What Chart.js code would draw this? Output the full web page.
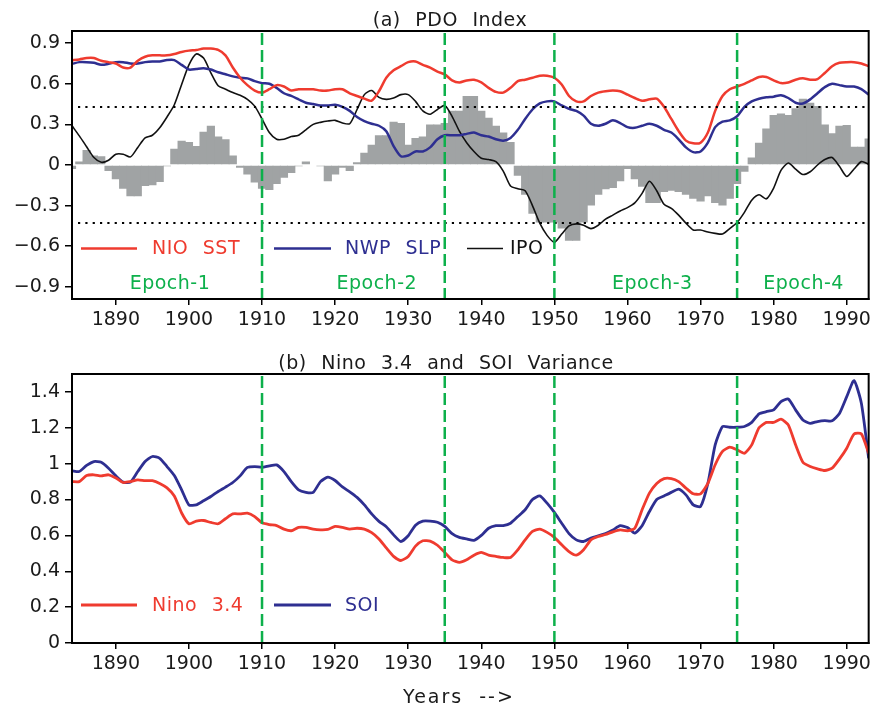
<!DOCTYPE html>
<html>
<head>
<meta charset="utf-8">
<script src="https://cdn.jsdelivr.net/npm/chart.js@4/dist/chart.umd.min.js"></script>
<style>
	body { margin:0; background:#fff; }
	canvas { display:block; }
</style>
</head>
<body>
<script>
// data ==========================================================================================

const years = Array.from({length: 110}, (_, i) => 1884 + i)   // 1884 .. 1993

const pdoBars = [
	-0.03, 0.025, 0.11, 0.07, 0.065, -0.045, -0.105, -0.175, -0.23, -0.23,
	-0.155, -0.15, -0.125, -0.01, 0.12, 0.18, 0.17, 0.14, 0.245, 0.29,
	0.21, 0.19, 0.07, -0.02, -0.07, -0.13, -0.175, -0.185, -0.14, -0.095,
	-0.06, -0.01, 0.025, 0.005, -0.01, -0.12, -0.07, -0.02, -0.045, 0.02,
	0.09, 0.15, 0.22, 0.22, 0.32, 0.31, 0.15, 0.2, 0.21, 0.3,
	0.3, 0.31, 0.4, 0.4, 0.51, 0.51, 0.4, 0.35, 0.29, 0.24,
	0.17, -0.08, -0.22, -0.36, -0.425, -0.425, -0.425, -0.47, -0.56, -0.56,
	-0.425, -0.3, -0.22, -0.18, -0.17, -0.12, -0.03, -0.105, -0.16, -0.28,
	-0.28, -0.2, -0.19, -0.2, -0.22, -0.25, -0.27, -0.23, -0.28, -0.3,
	-0.25, -0.14, -0.05, 0.055, 0.165, 0.27, 0.37, 0.38, 0.37, 0.42,
	0.49, 0.46, 0.435, 0.3, 0.235, 0.29, 0.295, 0.135, 0.135, 0.195,
]

const nioSst = [
	0.774, 0.78, 0.79, 0.79, 0.77, 0.76, 0.75, 0.72, 0.72, 0.77,
	0.80, 0.81, 0.81, 0.81, 0.82, 0.835, 0.845, 0.85, 0.86, 0.86,
	0.85, 0.81, 0.72, 0.645, 0.59, 0.55, 0.535, 0.56, 0.59, 0.58,
	0.55, 0.56, 0.56, 0.56, 0.55, 0.55, 0.56, 0.56, 0.53, 0.51,
	0.49, 0.475, 0.545, 0.645, 0.70, 0.73, 0.76, 0.765, 0.74, 0.72,
	0.69, 0.67, 0.625, 0.61, 0.625, 0.63, 0.61, 0.57, 0.54, 0.535,
	0.57, 0.62, 0.63, 0.645, 0.66, 0.66, 0.645, 0.595, 0.51, 0.47,
	0.47, 0.51, 0.535, 0.545, 0.55, 0.545, 0.52, 0.495, 0.475, 0.485,
	0.49, 0.43, 0.34, 0.25, 0.18, 0.16, 0.165, 0.24, 0.40, 0.51,
	0.56, 0.58, 0.60, 0.625, 0.65, 0.65, 0.625, 0.605, 0.61, 0.63,
	0.64, 0.63, 0.635, 0.68, 0.73, 0.755, 0.76, 0.76, 0.75, 0.73,
]

const nwpSlp = [
	0.747, 0.76, 0.76, 0.755, 0.74, 0.747, 0.76, 0.76, 0.75, 0.75,
	0.76, 0.765, 0.765, 0.775, 0.775, 0.74, 0.705, 0.71, 0.715, 0.705,
	0.685, 0.67, 0.655, 0.645, 0.64, 0.62, 0.605, 0.60, 0.57, 0.53,
	0.51, 0.485, 0.46, 0.45, 0.44, 0.44, 0.445, 0.43, 0.40, 0.355,
	0.325, 0.305, 0.29, 0.25, 0.14, 0.065, 0.07, 0.10, 0.10, 0.13,
	0.19, 0.22, 0.22, 0.22, 0.23, 0.24, 0.22, 0.21, 0.19, 0.18,
	0.2, 0.26, 0.34, 0.41, 0.455, 0.47, 0.47, 0.44, 0.415, 0.40,
	0.365, 0.305, 0.29, 0.305, 0.33, 0.31, 0.28, 0.275, 0.29, 0.305,
	0.29, 0.26, 0.24, 0.19, 0.13, 0.095, 0.10, 0.165, 0.28, 0.32,
	0.33, 0.36, 0.43, 0.47, 0.49, 0.50, 0.505, 0.515, 0.495, 0.46,
	0.455, 0.485, 0.53, 0.575, 0.60, 0.59, 0.58, 0.58, 0.56, 0.52,
]

const ipo = [
	0.29, 0.215, 0.135, 0.055, 0.02, 0.035, 0.08, 0.08, 0.06, 0.13,
	0.2, 0.22, 0.275, 0.355, 0.445, 0.595, 0.74, 0.82, 0.79, 0.68,
	0.585, 0.56, 0.535, 0.515, 0.485, 0.435, 0.34, 0.24, 0.19, 0.19,
	0.21, 0.22, 0.26, 0.30, 0.315, 0.325, 0.33, 0.31, 0.305, 0.41,
	0.52, 0.55, 0.50, 0.485, 0.495, 0.52, 0.52, 0.47, 0.40, 0.375,
	0.41, 0.44, 0.36, 0.25, 0.165, 0.10, 0.05, 0.04, 0.025, -0.045,
	-0.155, -0.175, -0.19, -0.3, -0.43, -0.52, -0.57, -0.51, -0.45, -0.435,
	-0.445, -0.47, -0.445, -0.40, -0.37, -0.34, -0.315, -0.28, -0.21, -0.12,
	-0.19, -0.29, -0.32, -0.37, -0.43, -0.48, -0.48, -0.495, -0.505, -0.51,
	-0.47, -0.425, -0.35, -0.26, -0.22, -0.25, -0.17, -0.04, 0.015, -0.03,
	-0.07, -0.05, 0.0, 0.04, 0.055, -0.01, -0.085, -0.03, 0.025, 0.005,
]

const nino34Var = [
	0.90, 0.90, 0.934, 0.938, 0.932, 0.938, 0.92, 0.895, 0.90, 0.91,
	0.905, 0.905, 0.89, 0.865, 0.82, 0.725, 0.665, 0.68, 0.683, 0.672,
	0.665, 0.693, 0.72, 0.72, 0.724, 0.705, 0.67, 0.66, 0.655, 0.635,
	0.626, 0.645, 0.645, 0.635, 0.631, 0.633, 0.65, 0.645, 0.635, 0.64,
	0.635, 0.615, 0.58, 0.53, 0.483, 0.46, 0.483, 0.54, 0.57, 0.568,
	0.545, 0.505, 0.464, 0.45, 0.464, 0.49, 0.505, 0.49, 0.483, 0.477,
	0.477, 0.52, 0.575, 0.622, 0.635, 0.617, 0.589, 0.548, 0.51, 0.49,
	0.52, 0.575, 0.594, 0.605, 0.62, 0.631, 0.626, 0.64, 0.743, 0.836,
	0.89, 0.917, 0.917, 0.90, 0.864, 0.832, 0.832, 0.89, 0.994, 1.068,
	1.092, 1.077, 1.058, 1.105, 1.20, 1.23, 1.23, 1.248, 1.216, 1.105,
	1.008, 0.984, 0.971, 0.962, 0.975, 1.025, 1.086, 1.166, 1.166, 1.058,
]

const soiVar = [
	0.96, 0.956, 0.99, 1.012, 1.008, 0.975, 0.932, 0.897, 0.897, 0.956,
	1.012, 1.04, 1.03, 0.984, 0.934, 0.854, 0.77, 0.77, 0.793, 0.817,
	0.845, 0.869, 0.895, 0.932, 0.979, 0.984, 0.98, 0.988, 0.993, 0.956,
	0.90, 0.854, 0.84, 0.84, 0.90, 0.925, 0.906, 0.87, 0.843, 0.812,
	0.77, 0.72, 0.678, 0.648, 0.603, 0.566, 0.598, 0.657, 0.68, 0.68,
	0.673, 0.65, 0.61, 0.589, 0.58, 0.572, 0.60, 0.64, 0.654, 0.655,
	0.668, 0.705, 0.743, 0.80, 0.82, 0.78, 0.728, 0.668, 0.61, 0.575,
	0.566, 0.585, 0.598, 0.61, 0.63, 0.654, 0.644, 0.613, 0.654, 0.733,
	0.80, 0.82, 0.84, 0.858, 0.826, 0.77, 0.761, 0.89, 1.105, 1.207,
	1.203, 1.203, 1.207, 1.23, 1.278, 1.29, 1.30, 1.346, 1.361, 1.30,
	1.244, 1.225, 1.235, 1.24, 1.239, 1.28, 1.374, 1.463, 1.337, 1.03,
]

const yearTicks = [1890, 1900, 1910, 1920, 1930, 1940, 1950, 1960, 1970, 1980, 1990]
const pdoTicks = [-0.9, -0.6, -0.3, 0, 0.3, 0.6, 0.9]
const varTicks = [0, 0.2, 0.4, 0.6, 0.8, 1, 1.2, 1.4]
const pdoLimits = [0.43, -0.43]
const epochBounds = [1910, 1935, 1950, 1975]
const epochNames = ['Epoch-1', 'Epoch-2', 'Epoch-3', 'Epoch-4']
const epochLabelAt = [1897.4, 1925.7, 1963.4, 1984.1]


// helpers =======================================================================================

const el = o => {
	const e = document.createElement(o.a)
	if (o.c) e.textContent = o.c
	if (o.d) for (const k in o.d) e.setAttribute(k, o.d[k])
	;(o.b || document.body).appendChild(e)
	return e
}

const RED = '#ef3b2f', BLUE = '#2e2f91', GREEN = '#0db04b', GRAY = '#a0a3a4'
const FONT = '"DejaVu Sans", sans-serif'

Chart.defaults.font.family = FONT
Chart.defaults.font.size = 19
Chart.defaults.color = '#1a1a1a'

const pts = v => years.map((x, i) => ({x, y: v[i]}))

const tickText = v => {
	const a = Math.abs(v)
	const s = a === 0 ? '0' : Number.isInteger(a) ? String(a) : a.toFixed(1)
	return (v < 0 ? '\u2212' : '') + s
}

const axes = (yMin, yMax, yTicks, xHeight) => ({
	x: {
		type: 'linear', min: 1884, max: 1993, offset: false,
		afterBuildTicks: s => { s.ticks = yearTicks.map(value => ({value})) },
		afterFit: s => { s.height = xHeight },
		grid: { drawOnChartArea: false, offset: false, tickLength: 6, color: '#000', lineWidth: 1.5 },
		border: { color: '#000', width: 2 },
		ticks: { padding: 4, maxRotation: 0, autoSkip: false, callback: v => String(v) },
	},
	y: {
		type: 'linear', min: yMin, max: yMax,
		afterBuildTicks: s => { s.ticks = yTicks.map(value => ({value})) },
		afterFit: s => { s.width = 72 },
		grid: { drawOnChartArea: false, tickLength: 7, color: '#000', lineWidth: 1.5 },
		border: { color: '#000', width: 2 },
		ticks: { padding: 5, callback: tickText },
	},
})

// frame, epoch lines, dotted limits, legend, labels
const deco = {
	id: 'deco',
	afterDatasetsDraw(c, _, o) {
		const {ctx, chartArea: a, scales: {x, y}} = c
		ctx.save()

		ctx.strokeStyle = '#000'
		ctx.lineWidth = 2.2
		ctx.setLineDash([2.2, 5.13])
		;(o.limits || []).forEach(v => {
			const py = Math.round(y.getPixelForValue(v))
			ctx.beginPath(); ctx.moveTo(a.left + 6, py); ctx.lineTo(a.right - 2, py); ctx.stroke()
		})

		ctx.strokeStyle = GREEN
		ctx.lineWidth = 2.5
		ctx.setLineDash([12, 5])
		epochBounds.forEach(v => {
			const px = x.getPixelForValue(v)
			ctx.beginPath(); ctx.moveTo(px, a.top + 2); ctx.lineTo(px, a.bottom); ctx.stroke()
		})
		ctx.setLineDash([])

		ctx.strokeStyle = '#000'
		ctx.lineWidth = 2
		ctx.strokeRect(a.left, a.top, a.right - a.left, a.bottom - a.top)

		ctx.font = '19px ' + FONT
		ctx.letterSpacing = '0.5px'
		ctx.wordSpacing = '8px'
		ctx.textBaseline = 'middle'
		ctx.textAlign = 'left'
		;(o.legend || []).forEach(l => {
			const ds = c.data.datasets[l.ds]
			ctx.strokeStyle = ds.borderColor
			ctx.lineWidth = ds.borderWidth
			ctx.beginPath(); ctx.moveTo(l.x, o.legendY); ctx.lineTo(l.x + l.len, o.legendY); ctx.stroke()
			ctx.fillStyle = ds.borderColor
			ctx.fillText(ds.label, l.tx, o.legendY + 1)
		})

		if (o.epochY) {
			ctx.fillStyle = GREEN
			ctx.textAlign = 'center'
			epochNames.forEach((t, i) => ctx.fillText(t, x.getPixelForValue(epochLabelAt[i]), o.epochY))
		}

		ctx.fillStyle = '#1a1a1a'
		ctx.textAlign = 'center'
		;(o.texts || []).forEach(t => {
			ctx.letterSpacing = (t.ls || 0.5) + 'px'
			ctx.fillText(t.c, t.x, t.y)
		})
		ctx.restore()
	}
}


// panel (a) =====================================================================================

const page1 = el({a:'div', d:{style:'position:absolute; left:0; top:0; width:875px; height:330px;'}})
const cv1 = el({a:'canvas', b:page1, d:{width:875, height:330}})

new Chart(cv1, {
	type: 'line',
	data: {
		datasets: [
			{ label: 'NIO SST', data: pts(nioSst), borderColor: RED, borderWidth: 2.5, pointRadius: 0, tension: 0.25, order: 1 },
			{ label: 'NWP SLP', data: pts(nwpSlp), borderColor: BLUE, borderWidth: 2.5, pointRadius: 0, tension: 0.25, order: 2 },
			{ label: 'IPO', data: pts(ipo), borderColor: '#111', borderWidth: 1.6, pointRadius: 0, tension: 0.25, order: 3 },
			// a touch wider than one year so neighbouring bars merge without hairline gaps
			{ type: 'bar', label: 'PDO', data: pts(pdoBars), backgroundColor: GRAY, borderWidth: 0,
				barPercentage: 1.12, categoryPercentage: 1, order: 9 },
		]
	},
	options: {
		responsive: false,
		animation: false,
		events: [],
		layout: { autoPadding: false, padding: { left: 0, right: 3, top: 31, bottom: 0 } },
		plugins: {
			legend: { display: false },
			tooltip: { enabled: false },
			deco: {
				limits: pdoLimits,
				legendY: 248.5,
				legend: [
					{ ds: 0, x: 81, len: 56, tx: 152 },
					{ ds: 1, x: 274, len: 57, tx: 345 },
					{ ds: 2, x: 467, len: 36, tx: 510 },
				],
				epochY: 284.5,
				texts: [ { c: '(a) PDO Index', x: 450, y: 21 } ],
			}
		},
		scales: axes(-0.99, 0.99, pdoTicks, 31),
	},
	plugins: [deco]
})


// panel (b) =====================================================================================

const page2 = el({a:'div', d:{style:'position:absolute; left:0; top:330px; width:875px; height:381px;'}})
const cv2 = el({a:'canvas', b:page2, d:{width:875, height:381}})

new Chart(cv2, {
	type: 'line',
	data: {
		datasets: [
			{ label: 'Nino 3.4', data: pts(nino34Var), borderColor: RED, borderWidth: 2.8, pointRadius: 0, tension: 0.2, order: 1 },
			{ label: 'SOI', data: pts(soiVar), borderColor: BLUE, borderWidth: 2.8, pointRadius: 0, tension: 0.2, order: 2 },
		]
	},
	options: {
		responsive: false,
		animation: false,
		events: [],
		layout: { autoPadding: false, padding: { left: 0, right: 3, top: 44, bottom: 0 } },
		plugins: {
			legend: { display: false },
			tooltip: { enabled: false },
			deco: {
				legendY: 275,
				legend: [
					{ ds: 0, x: 81, len: 56, tx: 152 },
					{ ds: 1, x: 274, len: 57, tx: 345 },
				],
				texts: [
					{ c: '(b) Nino 3.4 and SOI Variance', x: 446, y: 34 },
					{ c: 'Years -->', x: 459, y: 368, ls: 2 },
				],
			}
		},
		scales: axes(0, 1.5, varTicks, 68),
	},
	plugins: [deco]
})
</script>
</body>
</html>
